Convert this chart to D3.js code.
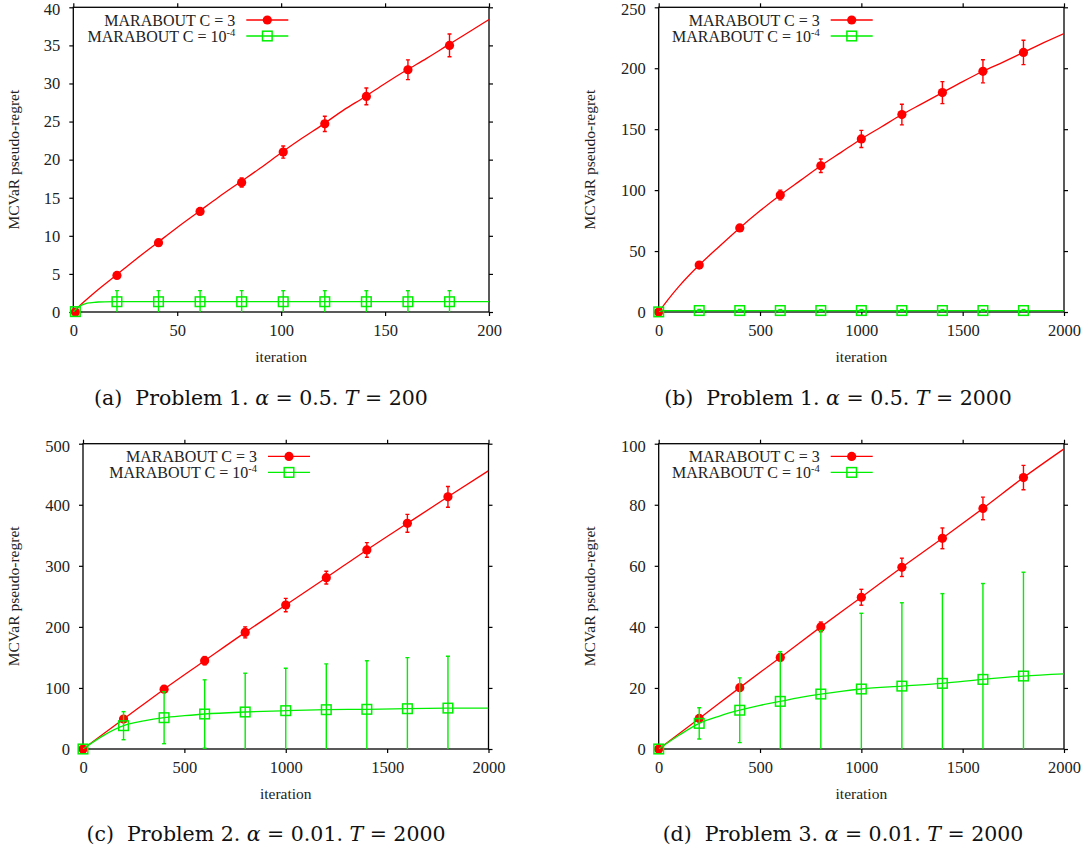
<!DOCTYPE html>
<html><head><meta charset="utf-8">
<script src="https://cdn.jsdelivr.net/npm/d3@7"></script>
<style>body{margin:0;background:#fff} svg{display:block}</style>
</head><body><svg id="c" width="1085" height="854"></svg>
<script>
// ---------- DATA ----------
// Panel (a): Problem 1, alpha=0.5, T=200
const aMarkX      = [1,21,41,61,81,101,121,141,161,181];
const aRedMark    = [0,4.8,9.1,13.2,17.0,21.0,24.7,28.3,31.8,35.0];
const aRedErr     = [0,0.3,0.4,0.4,0.6,0.8,1.0,1.1,1.3,1.5];
const aGreenMark  = [0.05,1.35,1.35,1.35,1.35,1.35,1.35,1.35,1.35,1.35];
const aGreenErr   = [0,1.45,1.45,1.45,1.45,1.45,1.45,1.45,1.45,1.45];
const aRedCurveX  = [0,5,10,20,30,40,50,60,70,80,90,100,110,120,130,140,150,160,170,180,190,200];
const aRedCurveY  = [0,1.3,2.5,4.7,6.9,9.0,11.1,13.1,15.1,17.0,18.9,20.9,22.8,24.6,26.5,28.2,30.0,31.7,33.3,35.0,36.7,38.4];
const aGreenCurveX= [0,2,4,6,8,10,12,15,20,200];
const aGreenCurveY= [0,0.55,0.9,1.1,1.2,1.27,1.31,1.34,1.35,1.35];

// Panel (b): Problem 1, alpha=0.5, T=2000
const bMarkX      = [0,200,400,600,800,1000,1200,1400,1600,1800];
const bRedMark    = [0,38.5,69,96,120,142,162,180,197.5,213];
const bRedErr     = [0,1,2.5,4,5.5,7,8.5,9,9.5,10];
const bGreenMark  = [0.1,1.2,1.2,1.2,1.2,1.2,1.2,1.2,1.2,1.2];
const bGreenErr   = [0,0.8,0.8,0.8,0.8,0.8,0.8,0.8,0.8,0.8];
const bRedCurveX  = [0,50,100,200,300,400,500,600,700,800,900,1000,1100,1200,1300,1400,1500,1600,1700,1800,1900,2000];
const bRedCurveY  = [0,11,21,38.5,54,69,83,96,108,120,131,142,152,162,171,180,189,197.5,205,213,221,228.5];
const bGreenCurveX= [0,20,2000];
const bGreenCurveY= [0,1.2,1.2];

// Panel (c): Problem 2, alpha=0.01, T=2000
const cMarkX      = [0,200,400,600,800,1000,1200,1400,1600,1800];
const cRedMark    = [0,49,98,144.6,191,235.8,280.6,326,369.6,413];
const cRedErr     = [0,3,5,6.8,9,10.9,10.4,12,14.7,17];
const cGreenMark  = [0,38.2,51.3,57.3,60.6,62.8,64.4,65,66,67];
const cGreenErr   = [0,23,42.6,56,63.5,69.5,75,79.6,83.6,84.8];
const cRedCurveX  = [0,200,400,600,800,1000,1200,1400,1600,1800,2000];
const cRedCurveY  = [0,49,98,144.6,191,235.8,280.6,326,369.6,413,455.8];
const cGreenCurveX= [0,100,200,300,400,500,600,800,1000,1200,1400,1600,1800,2000];
const cGreenCurveY= [0,22,38.2,46,51.3,54.5,57.3,60.6,62.8,64.4,65,66,66.8,67];

// Panel (d): Problem 3, alpha=0.01, T=2000
const dMarkX      = [0,200,400,600,800,1000,1200,1400,1600,1800];
const dRedMark    = [0,10.0,20.1,30.0,40.0,49.7,59.5,69.0,78.8,88.9];
const dRedErr     = [0,0.5,0.6,1.0,1.6,2.6,3.0,3.4,3.7,4.0];
const dGreenMark  = [0,8.4,12.7,15.6,18.0,19.65,20.6,21.5,22.8,23.9];
const dGreenErr   = [0,5.1,10.6,16.3,20.8,24.8,27.3,29.4,31.4,34];
const dRedCurveX  = [0,200,400,600,800,1000,1200,1400,1600,1800,2000];
const dRedCurveY  = [0,10.0,20.1,30.0,40.0,49.7,59.5,69.0,78.8,88.9,98.3];
const dGreenCurveX= [0,100,200,300,400,500,600,700,800,900,1000,1200,1400,1600,1800,2000];
const dGreenCurveY= [0,4.5,8.4,10.8,12.7,14.3,15.6,16.9,18.0,18.9,19.65,20.6,21.5,22.8,23.9,24.6];

const xTicksShort = [0,50,100,150,200];
const xTicksLong  = [0,500,1000,1500,2000];
const yTicksA = [0,5,10,15,20,25,30,35,40];
const yTicksB = [0,50,100,150,200,250];
const yTicksC = [0,100,200,300,400,500];
const yTicksD = [0,20,40,60,80,100];

const legendRed   = "MARABOUT C = 3";
const legendGreenA= "MARABOUT C = 10";
const legendGreenC= "MARABOUT C =  10";
const legendSup   = "-4";
const xLabel = "iteration";
const yLabel = "MCVaR pseudo-regret";

const captions = [
  {tag:"(a)", prob:"Problem 1.", a:"0.5.", T:"200"},
  {tag:"(b)", prob:"Problem 1.", a:"0.5.", T:"2000"},
  {tag:"(c)", prob:"Problem 2.", a:"0.01.", T:"2000"},
  {tag:"(d)", prob:"Problem 3.", a:"0.01.", T:"2000"}
];

// ---------- LAYOUT ----------
const RED = "#ff0000", GREEN = "#00ee00";
const SERIF = "'Liberation Serif','DejaVu Serif',serif";
const CAPF  = "'DejaVu Serif',serif";

const panels = [
  {L:73.3, R:489, T:7.3, B:312, xMax:200, xT:xTicksShort, yMax:40, yT:yTicksA, yl:13, legEnd:162,
   mx:aMarkX, rm:aRedMark, re:aRedErr, gm:aGreenMark, ge:aGreenErr,
   rcx:aRedCurveX, rcy:aRedCurveY, gcx:aGreenCurveX, gcy:aGreenCurveY, gLab:legendGreenA,
   cap:captions[0], capX:261, capY:405},
  {L:658.7, R:1064, T:7.3, B:312, xMax:2000, xT:xTicksLong, yMax:250, yT:yTicksB, yl:589, legEnd:161,
   mx:bMarkX, rm:bRedMark, re:bRedErr, gm:bGreenMark, ge:bGreenErr,
   rcx:bRedCurveX, rcy:bRedCurveY, gcx:bGreenCurveX, gcy:bGreenCurveY, gLab:legendGreenA,
   cap:captions[1], capX:838, capY:405},
  {L:83, R:488.5, T:443.7, B:749, xMax:2000, xT:xTicksLong, yMax:500, yT:yTicksC, yl:13, legEnd:174,
   mx:cMarkX, rm:cRedMark, re:cRedErr, gm:cGreenMark, ge:cGreenErr,
   rcx:cRedCurveX, rcy:cRedCurveY, gcx:cGreenCurveX, gcy:cGreenCurveY, gLab:legendGreenC,
   cap:captions[2], capX:266, capY:841},
  {L:658.7, R:1064, T:443.7, B:749, xMax:2000, xT:xTicksLong, yMax:100, yT:yTicksD, yl:589, legEnd:161,
   mx:dMarkX, rm:dRedMark, re:dRedErr, gm:dGreenMark, ge:dGreenErr,
   rcx:dRedCurveX, rcy:dRedCurveY, gcx:dGreenCurveX, gcy:dGreenCurveY, gLab:legendGreenA,
   cap:captions[3], capX:843, capY:841}
];

const svg = d3.select("#c");

panels.forEach((p, i) => {
  const g = svg.append("g");
  const x = d3.scaleLinear().domain([0, p.xMax]).range([p.L, p.R]);
  const y = d3.scaleLinear().domain([0, p.yMax]).range([p.B, p.T]);

  const clipId = "clip" + i;
  svg.append("clipPath").attr("id", clipId).append("rect")
    .attr("x", p.L).attr("y", p.T).attr("width", p.R - p.L).attr("height", p.B - p.T);

  const fmt = d3.format("d");
  const styleAxis = sel => {
    sel.select(".domain").remove();
    sel.selectAll("line").attr("stroke", "#000").attr("stroke-width", 1.2);
    sel.selectAll("text").attr("font-family", SERIF).attr("font-size", 16.5).attr("fill", "#222");
  };
  g.append("g").attr("transform", `translate(0,${p.B})`)
    .call(d3.axisBottom(x).tickValues(p.xT).tickFormat(fmt).tickSize(4).tickPadding(8)).call(styleAxis);
  g.append("g").attr("transform", `translate(0,${p.T})`)
    .call(d3.axisTop(x).tickValues(p.xT).tickFormat("").tickSize(4)).call(styleAxis);
  const yAx = g.append("g").attr("transform", `translate(${p.L},0)`)
    .call(d3.axisLeft(y).tickValues(p.yT).tickFormat(fmt).tickSize(4).tickPadding(9)).call(styleAxis);
  // keep the top tick label inside the page
  yAx.selectAll(".tick text").filter(d => d === p.yMax).attr("dy", "0.36em").attr("y", 1.5);
  g.append("g").attr("transform", `translate(${p.R},0)`)
    .call(d3.axisRight(y).tickValues(p.yT).tickFormat("").tickSize(4)).call(styleAxis);
  g.append("rect").attr("x", p.L).attr("y", p.T).attr("width", p.R - p.L).attr("height", p.B - p.T)
    .attr("fill", "none").attr("stroke", "#000").attr("stroke-width", 1.3);

  g.append("text").attr("x", (p.L + p.R) / 2).attr("y", p.B + 50)
    .attr("text-anchor", "middle").attr("font-family", SERIF).attr("font-size", 15.5).attr("fill", "#222")
    .text(xLabel);
  g.append("text").attr("transform", `translate(${p.yl},${(p.T + p.B) / 2}) rotate(-90)`)
    .attr("text-anchor", "middle").attr("dominant-baseline", "central")
    .attr("font-family", SERIF).attr("font-size", 15.5).attr("fill", "#222").text(yLabel);

  const line = d3.line().x(d => x(d[0])).y(d => y(d[1])).curve(d3.curveMonotoneX);

  const series = [
    {cx:p.rcx, cy:p.rcy, mx:p.mx, m:p.rm, e:p.re, col:RED, type:"circle"},
    {cx:p.gcx, cy:p.gcy, mx:p.mx, m:p.gm, e:p.ge, col:GREEN, type:"square"}
  ];
  series.forEach(s => {
    g.append("path").datum(d3.zip(s.cx, s.cy)).attr("d", line)
      .attr("fill", "none").attr("stroke", s.col).attr("stroke-width", 1.3)
      .attr("clip-path", `url(#${clipId})`);
    const pts = d3.zip(s.mx, s.m, s.e);
    const eb = g.append("g").attr("clip-path", `url(#${clipId})`)
      .attr("stroke", s.col).attr("stroke-width", 1.4);
    pts.filter(d => d[2] > 0).forEach(d => {
      const xx = x(d[0]), y1 = y(d[1] - d[2]), y2 = y(d[1] + d[2]);
      eb.append("line").attr("x1", xx).attr("x2", xx).attr("y1", y1).attr("y2", y2);
      eb.append("line").attr("x1", xx - 2).attr("x2", xx + 2).attr("y1", y1).attr("y2", y1);
      eb.append("line").attr("x1", xx - 2).attr("x2", xx + 2).attr("y1", y2).attr("y2", y2);
    });
    pts.forEach(d => {
      if (s.type === "circle") {
        g.append("circle").attr("cx", x(d[0])).attr("cy", y(d[1])).attr("r", 4.6).attr("fill", s.col);
      } else {
        g.append("rect").attr("x", x(d[0]) - 4.8).attr("y", y(d[1]) - 4.8).attr("width", 9.6).attr("height", 9.6)
          .attr("fill", "none").attr("stroke", s.col).attr("stroke-width", 1.5);
      }
    });
  });

  // legend
  const lx = p.L + p.legEnd, ly = p.T + 12.7;
  const legRows = [
    {txt: legendRed, sup: null, col: RED, type: "circle"},
    {txt: p.gLab, sup: legendSup, col: GREEN, type: "square"}
  ];
  legRows.forEach((r, k) => {
    const yy = ly + k * 16;
    const t = g.append("text").attr("x", lx).attr("y", yy + 5.5).attr("text-anchor", "end")
      .attr("font-family", SERIF).attr("font-size", 16).attr("fill", "#222");
    t.append("tspan").text(r.txt);
    if (r.sup) t.append("tspan").attr("dy", -6).attr("font-size", 10.5).text(r.sup);
    g.append("line").attr("x1", lx + 11).attr("x2", lx + 53).attr("y1", yy).attr("y2", yy)
      .attr("stroke", r.col).attr("stroke-width", 1.3);
    if (r.type === "circle") g.append("circle").attr("cx", lx + 32).attr("cy", yy).attr("r", 4.6).attr("fill", r.col);
    else g.append("rect").attr("x", lx + 32 - 4.8).attr("y", yy - 4.8).attr("width", 9.6).attr("height", 9.6)
      .attr("fill", "none").attr("stroke", r.col).attr("stroke-width", 1.5);
  });

  // caption
  const c = svg.append("text").attr("x", p.capX).attr("y", p.capY).attr("text-anchor", "middle")
    .attr("font-family", CAPF).attr("font-size", 20.5).attr("fill", "#111");
  c.append("tspan").text(p.cap.tag + "\u00a0 " + p.cap.prob + " ");
  c.append("tspan").attr("font-style", "italic").text("\u03b1");
  c.append("tspan").text(" = " + p.cap.a + " ");
  c.append("tspan").attr("font-style", "italic").text("T");
  c.append("tspan").text(" = " + p.cap.T);
});
</script></body></html>
